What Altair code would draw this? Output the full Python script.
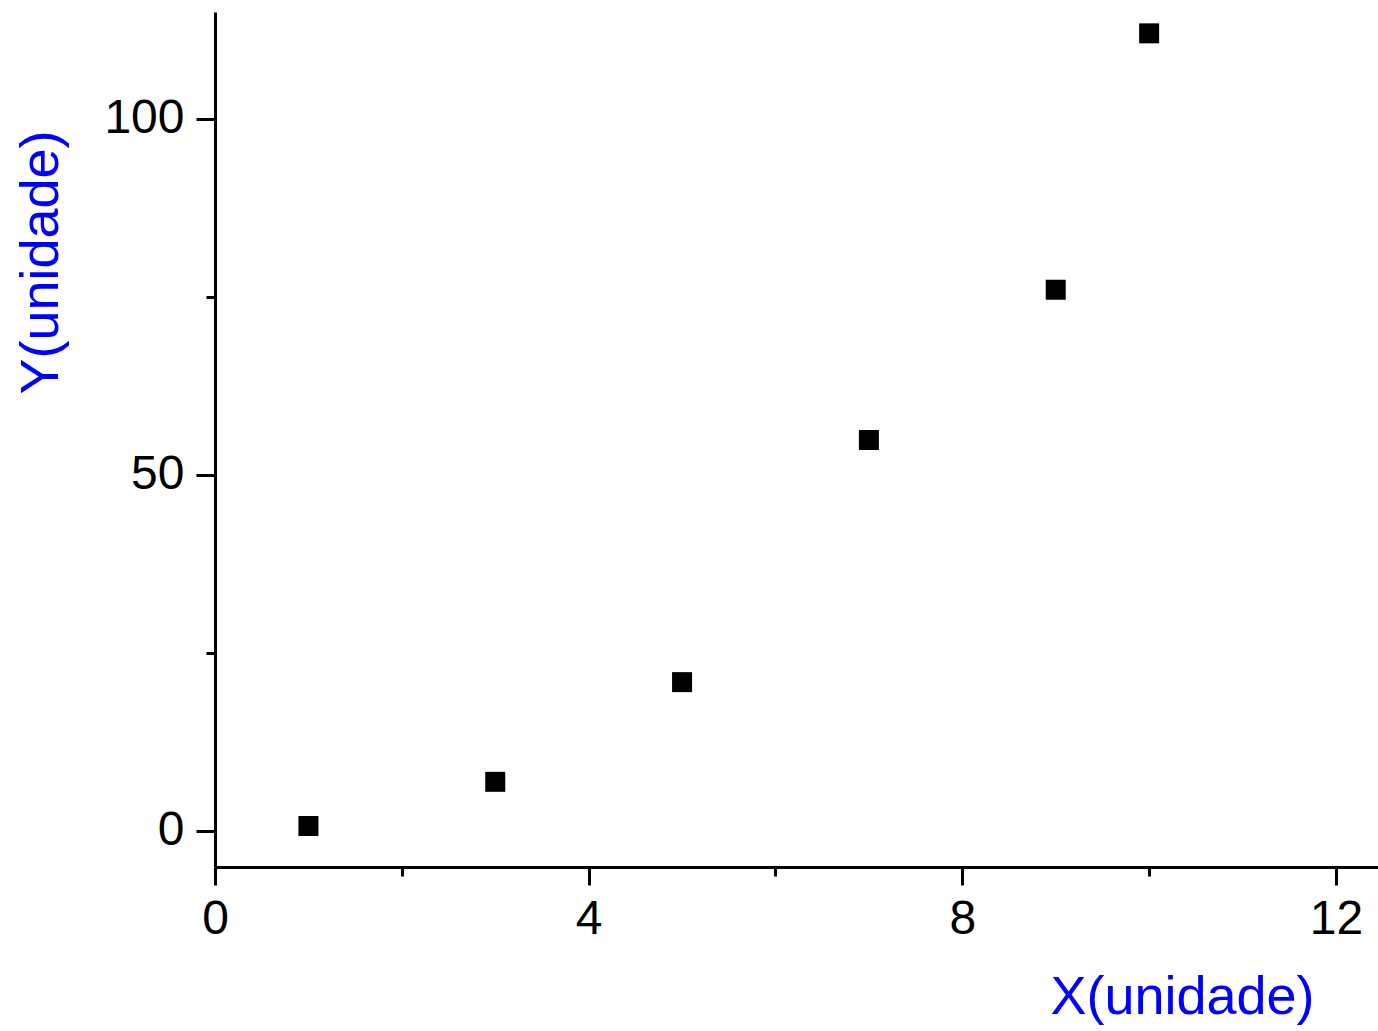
import altair as alt
import pandas as pd

# Measured points
x_vals = [1, 3, 5, 7, 9, 10]
y_vals = [0.7, 6.9, 20.9, 54.9, 76.0, 112.0]

x_ticks = [0, 2, 4, 6, 8, 10, 12]
y_ticks = [0, 25, 50, 75, 100]

df = pd.DataFrame({"x": x_vals, "y": y_vals})

FONT = "Liberation Sans"
BLUE = "#0000ff"

x_axis = alt.Axis(
    title="X(unidade)",
    values=x_ticks,
    labelExpr="datum.value % 4 === 0 ? datum.label : ''",
    tickSize={"condition": {"test": "datum.value % 4 === 0", "value": 18}, "value": 9},
    tickWidth=3,
    tickColor="black",
    domainColor="black",
    domainWidth=3,
    grid=False,
    labelFont=FONT,
    labelFontSize=48,
    labelColor="black",
    labelPadding=10,
    labelFlush=False,
    titleFont=FONT,
    titleFontSize=54,
    titleFontWeight="normal",
    titleColor=BLUE,
    titleAlign="center",
    titleAnchor="start",
    titleBaseline="alphabetic",
    titleX=967,
    titleY=146,
)

y_axis = alt.Axis(
    title="Y(unidade)",
    values=y_ticks,
    labelExpr="datum.value % 50 === 0 ? datum.label : ''",
    tickSize={"condition": {"test": "datum.value % 50 === 0", "value": 19}, "value": 9},
    tickWidth=3,
    tickColor="black",
    domainColor="black",
    domainWidth=3,
    grid=False,
    labelFont=FONT,
    labelFontSize=48,
    labelColor="black",
    labelPadding=12,
    labelFlush=False,
    titleFont=FONT,
    titleFontSize=54,
    titleFontWeight="normal",
    titleColor=BLUE,
    titleAngle=-90,
    titleAlign="center",
    titleAnchor="start",
    titleBaseline="alphabetic",
    titleX=-158,
    titleY=250,
)

chart = (
    alt.Chart(df)
    .mark_point(shape="square", filled=True, size=400, color="black", opacity=1)
    .encode(
        x=alt.X("x:Q", scale=alt.Scale(domain=[0, 12.45], nice=False, zero=False), axis=x_axis),
        y=alt.Y("y:Q", scale=alt.Scale(domain=[-5.06, 115], nice=False, zero=False), axis=y_axis),
    )
    .properties(
        width=1163,
        height=855,
        autosize=alt.AutoSizeParams(type="none"),
        padding={"left": 215, "top": 12, "right": 0, "bottom": 164},
        background="white",
    )
    .configure_view(stroke=None)
)

chart.save("out.html", embed_options={"renderer": "svg", "actions": False})
